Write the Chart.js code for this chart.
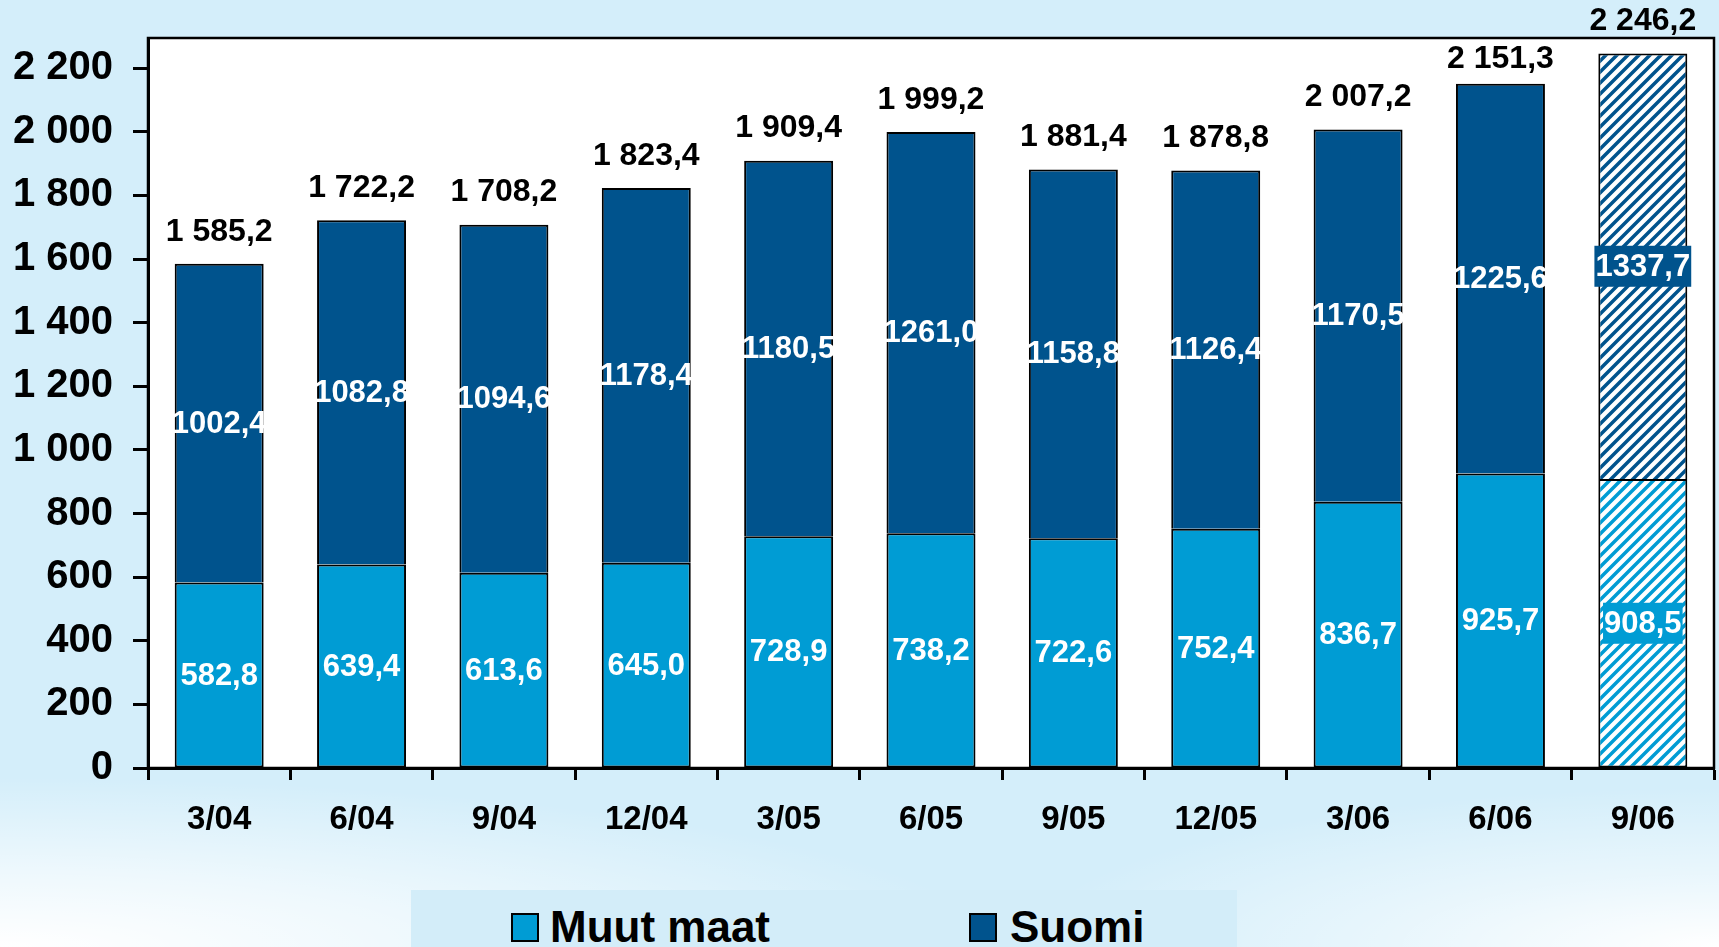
<!DOCTYPE html>
<html lang="fi">
<head>
    <meta charset="UTF-8">
    <title>Muut maat / Suomi</title>
    <script src="https://cdn.jsdelivr.net/npm/chart.js"></script>
    <style>
        html, body {
            margin: 0;
            padding: 0;
        }
        body {
            width: 1719px;
            height: 947px;
            overflow: hidden;
            position: relative;
            font-family: Arial, "Liberation Sans", sans-serif;
            background:
                radial-gradient(ellipse 1000px 170px at 0% 100%, #ffffff 0%, rgba(255,255,255,0.6) 45%, rgba(255,255,255,0) 100%),
                radial-gradient(ellipse 700px 160px at 100% 100%, #ffffff 0%, rgba(255,255,255,0.5) 45%, rgba(255,255,255,0) 100%),
                #d4eefa;
        }
        .wrap {
            position: absolute;
            left: 0;
            top: 0;
            width: 1719px;
            height: 947px;
        }
        .legend {
            position: absolute;
            left: 411px;
            top: 890px;
            width: 826px;
            height: 57px;
            background: #d3edf9;
        }
        .legend .swatch {
            position: absolute;
            top: 23px;
            width: 24px;
            height: 25px;
            border: 2px solid #000;
        }
        .legend .label {
            position: absolute;
            top: 15px;
            font-size: 44px;
            line-height: 44px;
            font-weight: bold;
            color: #000;
            white-space: nowrap;
        }
    </style>
</head>
<body>
    <div class="wrap"><canvas id="chart"></canvas></div>
    <div class="legend" id="legend"></div>

    <script>
        const categories = ['3/04', '6/04', '9/04', '12/04', '3/05', '6/05', '9/05', '12/05', '3/06', '6/06', '9/06'];
        const muutMaat = [582.8, 639.4, 613.6, 645.0, 728.9, 738.2, 722.6, 752.4, 836.7, 925.7, 908.5];
        const suomi = [1002.4, 1082.8, 1094.6, 1178.4, 1180.5, 1261.0, 1158.8, 1126.4, 1170.5, 1225.6, 1337.7];
        const yTicks = [0, 200, 400, 600, 800, 1000, 1200, 1400, 1600, 1800, 2000, 2200];
        const hatchedIndex = 10; // 9/06 is drawn striped

        const FONT = 'Arial, "Liberation Sans", sans-serif';
        const MUUT_COLOR = '#009cd4';
        const SUOMI_COLOR = '#00538d';

        Chart.defaults.font.family = FONT;
        Chart.defaults.color = '#000';

        // "2 246,2" style numbers
        function fmtSpace(v, dec) {
            const parts = v.toFixed(dec).split('.');
            parts[0] = parts[0].replace(/\B(?=(\d{3})+(?!\d))/g, ' ');
            return parts.join(',');
        }

        const canvas = document.getElementById('chart');

        function hatch(color) {
            const s = 11;
            const c = document.createElement('canvas');
            c.width = s;
            c.height = s;
            const g = c.getContext('2d');
            g.fillStyle = '#fff';
            g.fillRect(0, 0, s, s);
            g.strokeStyle = color;
            g.lineWidth = 3.5;
            g.beginPath();
            g.moveTo(0, s); g.lineTo(s, 0);
            g.moveTo(-s / 2, s / 2); g.lineTo(s / 2, -s / 2);
            g.moveTo(s / 2, s * 1.5); g.lineTo(s * 1.5, s / 2);
            g.stroke();
            return canvas.getContext('2d').createPattern(c, 'repeat');
        }

        const muutHatch = hatch(MUUT_COLOR);
        const suomiHatch = hatch(SUOMI_COLOR);

        const plotFrame = {
            id: 'plotFrame',
            beforeDraw(chart) {
                const { ctx, chartArea: a } = chart;
                ctx.save();
                ctx.fillStyle = '#fff';
                ctx.fillRect(a.left, a.top, a.right - a.left, a.bottom - a.top);
                ctx.restore();
            },
            afterDraw(chart) {
                const { ctx, chartArea: a } = chart;
                ctx.save();
                ctx.strokeStyle = '#000';
                ctx.lineWidth = 2.5;
                ctx.strokeRect(a.left, a.top, a.right - a.left, a.bottom - a.top);
                ctx.restore();
            }
        };

        const valueLabels = {
            id: 'valueLabels',
            afterDatasetsDraw(chart) {
                const ctx = chart.ctx;
                const top = chart.chartArea.top;
                ctx.save();
                ctx.textAlign = 'center';
                ctx.textBaseline = 'middle';
                ctx.font = 'bold 31px ' + FONT;
                chart.data.datasets.forEach((ds, di) => {
                    chart.getDatasetMeta(di).data.forEach((bar, i) => {
                        const yMid = (bar.y + bar.base) / 2;
                        const txt = ds.data[i].toFixed(1).replace('.', ',');
                        if (i === hatchedIndex) {
                            const w = ctx.measureText(txt).width + 2;
                            ctx.fillStyle = ds.solidColor;
                            ctx.fillRect(bar.x - w / 2, yMid - 20.5, w, 41);
                        }
                        ctx.fillStyle = '#fff';
                        ctx.fillText(txt, bar.x, yMid + 1);
                    });
                });

                // totals above the bars, kept off the frame line
                const topMeta = chart.getDatasetMeta(chart.data.datasets.length - 1);
                ctx.font = 'bold 32px ' + FONT;
                ctx.fillStyle = '#000';
                topMeta.data.forEach((bar, i) => {
                    let y = bar.y - 32;
                    if (y > top - 5 && y - 13 < top + 3) y = top + 21;
                    ctx.fillText(fmtSpace(muutMaat[i] + suomi[i], 1), bar.x, y);
                });
                ctx.restore();
            }
        };

        const barStyle = {
            borderColor: '#000',
            borderWidth: 2,
            barPercentage: 0.625,
            categoryPercentage: 1
        };

        const chart = new Chart(canvas, {
            type: 'bar',
            data: {
                labels: categories,
                datasets: [
                    Object.assign({
                        label: 'Muut maat',
                        data: muutMaat,
                        solidColor: MUUT_COLOR,
                        backgroundColor: c => c.dataIndex === hatchedIndex ? muutHatch : MUUT_COLOR,
                        borderSkipped: false
                    }, barStyle),
                    Object.assign({
                        label: 'Suomi',
                        data: suomi,
                        solidColor: SUOMI_COLOR,
                        backgroundColor: c => c.dataIndex === hatchedIndex ? suomiHatch : SUOMI_COLOR,
                        borderSkipped: 'start'
                    }, barStyle)
                ]
            },
            options: {
                responsive: true,
                maintainAspectRatio: false,
                animation: false,
                layout: { padding: { top: 38, right: 5, left: 0, bottom: 0 } },
                plugins: {
                    legend: { display: false },
                    tooltip: { enabled: false }
                },
                scales: {
                    x: {
                        stacked: true,
                        grid: {
                            drawOnChartArea: false,
                            drawTicks: true,
                            tickLength: 12,
                            tickColor: '#000',
                            tickWidth: 3,
                            offset: true
                        },
                        border: { display: true, color: '#000', width: 3 },
                        ticks: {
                            font: { size: 33, weight: 'bold' },
                            color: '#000',
                            padding: 20,
                            maxRotation: 0,
                            autoSkip: false
                        },
                        afterFit: s => { s.height = 179; }
                    },
                    y: {
                        stacked: true,
                        min: 0,
                        max: 2295,
                        afterBuildTicks: s => { s.ticks = yTicks.map(v => ({ value: v })); },
                        grid: {
                            drawOnChartArea: false,
                            tickLength: 15,
                            tickColor: '#000',
                            tickWidth: 3
                        },
                        border: { display: true, color: '#000', width: 3 },
                        ticks: {
                            font: { size: 40, weight: 'bold' },
                            color: '#000',
                            padding: 20,
                            callback: v => fmtSpace(v, 0)
                        },
                        afterFit: s => {
                            s.width = 148;
                            s.paddingTop = 0;
                            s.paddingBottom = 0;
                        }
                    }
                }
            },
            plugins: [plotFrame, valueLabels]
        });

        // legend below the chart, built from the datasets
        const legendLeft = [100, 558];
        const legendText = [139, 599];
        const legend = document.getElementById('legend');
        chart.data.datasets.forEach((ds, i) => {
            const sw = document.createElement('span');
            sw.className = 'swatch';
            sw.style.left = legendLeft[i] + 'px';
            sw.style.background = ds.solidColor;
            legend.appendChild(sw);
            const lb = document.createElement('span');
            lb.className = 'label';
            lb.style.left = legendText[i] + 'px';
            lb.textContent = ds.label;
            legend.appendChild(lb);
        });
    </script>
</body>
</html>
